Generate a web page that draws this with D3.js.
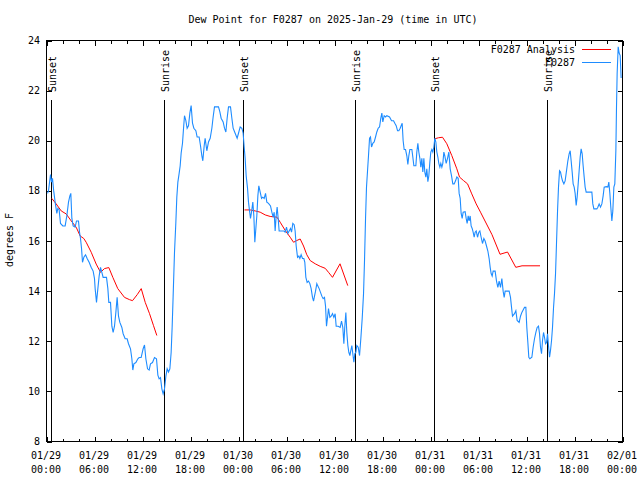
<!DOCTYPE html>
<html><head><meta charset="utf-8">
<script src="https://cdn.jsdelivr.net/npm/d3@7"></script>
<style>
html,body{margin:0;padding:0;background:#fff;}
text{font-family:"DejaVu Sans Mono",monospace;font-size:10px;fill:#000;}
</style></head><body>
<script>
// ---- data (hours since 2025-01-29 00:00 UTC) ----
const obsHours = [0.13,0.25,0.5,0.63,0.75,0.9,1.08,1.29,1.42,1.58,1.75,2.04,2.33,2.54,2.75,2.92,3.04,3.17,3.33,3.58,3.75,4.0,4.13,4.25,4.38,4.5,4.67,4.88,5.08,5.33,5.58,5.83,6.0,6.08,6.25,6.42,6.58,6.75,6.92,7.08,7.5,7.67,7.79,8.0,8.17,8.33,8.5,8.67,8.83,9.0,9.17,9.42,9.58,9.83,10.08,10.25,10.5,10.67,10.79,10.92,11.17,11.42,11.58,11.83,12.08,12.25,12.42,12.63,12.83,13.0,13.25,13.5,13.75,13.92,14.08,14.25,14.42,14.58,14.75,14.92,15.08,15.25,15.42,15.58,15.71,15.83,16.0,16.17,16.29,16.42,16.58,16.71,16.83,17.0,17.13,17.25,17.42,17.58,17.75,17.92,
18.08,18.25,18.42,18.67,18.83,19.08,19.25,19.42,19.54,19.71,19.83,20.04,20.25,20.46,20.67,20.83,21.0,21.5,21.67,21.83,22.08,22.25,22.42,22.58,22.75,23.0,23.17,23.33,23.58,23.83,24.0,24.21,24.42,24.58,24.71,24.83,24.96,25.13,25.25,25.38,25.5,25.63,25.79,25.92,26.04,26.17,26.29,26.42,26.54,26.71,26.88,27.04,27.21,27.38,27.54,27.75,28.0,28.17,28.33,28.46,28.58,28.71,28.83,28.96,29.08,29.67,29.83,30.0,30.17,30.33,30.5,30.63,30.79,30.96,31.08,31.21,31.38,31.54,31.67,31.83,32.0,32.17,32.29,32.42,32.58,32.75,32.92,33.08,33.25,33.38,33.5,33.63,33.79,33.92,34.08,34.25,34.42,34.58,34.75,34.88,35.0,35.13,35.25,35.42,35.58,35.75,35.92,36.08,
36.21,36.46,36.71,36.88,37.04,37.17,37.29,37.42,37.54,37.67,37.79,37.92,38.04,38.17,38.29,38.42,38.54,38.67,38.79,38.96,39.13,39.29,39.46,39.63,39.75,39.88,40.0,40.13,40.25,40.38,40.5,40.63,40.79,40.96,41.13,41.29,41.46,41.63,41.79,41.92,42.04,42.21,42.38,42.54,42.88,43.13,43.38,43.54,43.71,43.88,44.04,44.21,44.33,44.46,44.58,44.71,44.88,45.04,45.17,45.29,45.42,45.67,45.79,45.92,46.17,46.29,46.42,46.54,46.67,46.79,46.92,47.04,47.17,47.29,47.42,47.54,47.67,47.79,47.92,48.04,48.17,48.29,48.42,48.54,48.67,48.79,48.92,49.04,49.17,49.29,49.42,49.54,49.67,49.79,49.96,50.13,50.29,50.46,50.63,50.79,50.96,51.13,51.29,51.46,51.58,51.71,51.83,51.96,52.08,52.33,52.46,52.58,52.71,52.83,52.96,53.08,53.21,53.33,53.46,53.58,53.71,53.88,54.04,54.17,54.33,54.5,54.67,54.83,55.0,55.17,55.33,55.46,55.58,55.71,55.83,56.08,56.25,56.42,56.58,56.75,56.92,57.08,57.21,57.33,57.83,58.0,58.13,58.25,58.5,58.67,58.83,59.08,59.25,59.42,59.58,59.75,59.92,60.04,60.17,60.29,60.42,60.67,60.83,61.0,61.17,61.33,61.5,61.63,61.75,61.88,62.0,62.13,62.25,62.38,62.5,62.63,62.75,62.88,63.0,63.13,63.25,63.38,63.5,63.63,63.75,63.88,64.0,64.13,64.25,64.38,64.5,64.67,64.83,65.0,65.17,65.33,65.46,65.58,65.71,65.83,65.96,66.08,66.21,66.33,66.46,66.58,66.71,66.83,66.96,67.08,67.21,67.33,67.46,68.17,68.29,68.42,68.79,68.92,69.08,69.25,69.42,69.58,69.71,69.96,70.17,70.29,70.42,70.54,70.67,70.79,70.92,71.04,71.17,71.25,71.33,71.46,71.58,71.71,71.83];
const obsDew = [17.9,18.0,18.65,18.35,18.5,18.0,17.55,17.1,17.3,17.25,16.7,16.6,16.6,17.0,17.55,17.8,17.9,16.9,16.6,16.55,16.8,16.8,16.35,16.1,15.7,15.15,15.35,15.45,15.3,15.15,14.95,14.8,14.5,14.1,13.55,14.1,14.6,14.95,14.75,14.55,14.55,14.1,13.55,13.55,12.6,12.35,12.6,13.15,13.75,13.0,12.75,12.55,12.3,12.1,12.1,11.9,11.7,11.3,10.85,11.1,11.15,11.3,11.35,11.35,11.7,11.85,11.3,10.9,10.85,11.1,11.15,11.35,11.3,10.65,10.5,10.55,10.1,9.9,10.1,10.6,10.9,10.77,10.9,11.55,12.6,13.8,15.55,16.75,17.75,18.35,18.7,19.0,19.5,19.9,20.5,21.0,20.8,20.5,20.6,21.1,
21.4,20.7,20.5,20.4,20.15,20.15,19.8,19.4,19.2,19.8,20.1,19.6,19.95,20.1,20.5,20.95,21.35,21.35,21.15,20.9,20.75,20.5,20.35,20.9,21.35,21.35,20.9,20.5,20.3,20.1,20.3,20.55,20.5,20.3,19.75,19.3,18.6,18.1,17.55,17.2,16.9,17.15,17.55,17.0,15.95,16.5,17.0,17.8,18.2,17.95,17.7,17.75,17.7,17.9,17.55,17.5,17.4,17.15,16.95,17.15,16.4,17.0,17.35,16.9,16.4,16.4,16.35,16.55,16.3,16.4,16.5,16.35,16.7,16.65,16.4,15.8,15.35,15.4,15.3,15.45,15.3,15.3,15.15,14.55,14.35,14.4,14.3,14.1,13.75,13.6,13.8,14.0,14.3,14.2,14.1,13.95,13.8,13.7,13.75,13.4,12.6,12.95,13.3,12.95,13.0,13.1,12.95,13.1,
12.6,12.6,12.55,12.8,12.55,11.9,12.6,13.15,12.35,11.83,11.56,11.43,11.63,11.83,11.5,11.16,11.5,11.56,11.83,11.76,11.43,12.1,12.9,13.9,15.2,16.9,18.15,18.8,19.4,20.1,20.15,19.75,19.9,19.95,20.15,20.35,20.5,20.55,20.9,21.1,20.75,21.0,20.95,21.0,20.95,20.8,20.8,20.7,20.6,20.4,20.4,20.5,20.6,20.7,20.0,19.65,19.65,19.4,19.05,19.4,19.65,19.65,19.35,19.0,19.0,19.55,19.9,19.55,19.3,18.95,19.3,18.75,19.3,18.75,18.55,18.88,18.37,18.6,19.15,19.55,19.65,19.55,19.75,20.1,19.95,19.55,19.35,19.1,18.95,19.1,18.95,19.1,19.55,19.4,19.1,19.3,19.55,18.88,18.6,18.28,18.28,18.4,18.55,18.5,17.9,17.7,17.1,16.9,17.15,17.17,16.9,16.7,17.0,16.8,17.0,16.6,16.5,16.35,16.15,16.35,16.4,16.15,16.35,16.4,16.15,15.9,16.1,16.0,15.8,15.6,15.3,14.95,14.7,14.6,14.8,14.8,14.4,14.15,14.4,14.15,14.5,14.0,13.75,14.0,14.0,13.75,13.35,13.0,13.1,13.22,12.83,12.75,13.0,13.15,13.25,13.35,13.35,12.55,11.95,11.36,11.3,11.36,11.76,12.1,12.35,12.55,12.6,12.3,11.76,11.5,12.03,12.35,12.16,11.9,11.95,12.3,11.83,11.36,11.63,12.03,12.55,13.35,13.9,14.7,15.9,17.2,18.15,18.8,18.75,18.55,18.4,18.28,18.4,18.8,19.2,19.48,19.6,19.2,18.75,18.28,18.15,17.9,17.42,17.75,18.28,18.8,19.35,19.68,19.48,19.0,18.55,18.15,17.95,17.95,17.48,17.28,17.28,17.35,17.48,17.35,17.48,17.8,18.15,18.17,18.15,18.35,17.9,17.35,16.8,17.2,18.15,18.28,19.6,21.35,22.67,23.75,23.5,23.4,22.5];

// analysis series: null marks a gap between runs
const anaHours = [0.66,1.21,1.84,2.46,3.09,3.71,4.21,4.66,4.96,5.59,6.21,6.75,7.25,7.79,8.29,8.91,9.75,10.38,10.75,11.34,11.84,12.34,12.88,13.38,13.79, null,
24.75,25.46,26.09,26.71,27.34,27.96,28.81,29.21,29.84,30.46,30.88,31.29,31.71,32.13,32.54,32.96,33.59,34.21,34.84,35.25,35.75,36.69,37.66, null,
48.56,49.0,49.5,50.04,50.66,51.29,51.63,52.13,52.63,53.16,53.71,54.25,55.69,56.69,57.63,58.66,59.44,61.69];
const anaDew = [17.7,17.48,17.2,17.08,16.8,16.55,16.2,16.1,15.95,15.55,15.08,14.75,14.9,14.94,14.55,14.1,13.75,13.66,13.62,13.86,14.1,13.55,13.1,12.62,12.23, null,
17.24,17.24,17.2,17.15,17.04,16.98,16.95,16.75,16.42,16.15,15.95,16.02,16.08,15.8,15.45,15.22,15.09,14.99,14.91,14.75,14.55,15.09,14.22, null,
20.08,20.12,20.14,19.88,19.41,18.88,18.55,18.41,18.28,17.88,17.48,17.15,16.25,15.47,15.56,14.95,15.01,15.01];

const sunsetHours = [0.63, 24.63, 48.55];
const sunriseHours = [14.75, 38.65, 62.65];

const yTicks = [8,10,12,14,16,18,20,22,24];
const xMajorHours = [0,6,12,18,24,30,36,42,48,54,60,66,72];
const xMinorHours = d3.range(0,73,2).filter(h => h % 6 !== 0);
const xTickDates = ["01/29","01/29","01/29","01/29","01/30","01/30","01/30","01/30","01/31","01/31","01/31","01/31","02/01"];
const xTickTimes = ["00:00","06:00","12:00","18:00","00:00","06:00","12:00","18:00","00:00","06:00","12:00","18:00","00:00"];

const titleText = "Dew Point for F0287 on 2025-Jan-29 (time in UTC)";
const yLabel = "degrees F";
const seriesNames = ["F0287 Analysis", "F0287"];
const seriesColors = ["#ff0000", "#1e8cff"];

// ---- drawing ----
const W = 640, H = 480;
const L = 46, R = 622, T = 40, B = 441;
const svg = d3.select("body").append("svg").attr("width", W).attr("height", H);
svg.append("rect").attr("width", W).attr("height", H).attr("fill", "#fff");

const x = d3.scaleLinear().domain([0, 72]).range([L, R]);
const y = d3.scaleLinear().domain([8, 24]).range([B, T]);

const g = svg.append("g").attr("transform", "translate(0.5,0.5)");

// axes ticks (inward, mirrored)
function tickAxis(axisFn, scale, vals, size, tr) {
  const a = g.append("g").attr("transform", tr)
    .call(axisFn(scale).tickValues(vals).tickSize(size).tickFormat(""));
  a.select(".domain").remove();
  a.selectAll("line").attr("stroke", "#000").attr("shape-rendering", "crispEdges");
}
tickAxis(d3.axisBottom, x, xMajorHours, -5, `translate(0,${B})`);
tickAxis(d3.axisBottom, x, xMinorHours, -3, `translate(0,${B})`);
tickAxis(d3.axisTop, x, xMajorHours, -5, `translate(0,${T})`);
tickAxis(d3.axisTop, x, xMinorHours, -3, `translate(0,${T})`);
tickAxis(d3.axisLeft, y, yTicks, -5, `translate(${L},0)`);
tickAxis(d3.axisRight, y, yTicks, -5, `translate(${R},0)`);

// y labels
svg.append("g").selectAll("text").data(yTicks).join("text")
  .attr("x", 40).attr("y", d => y(d) + 4).attr("text-anchor", "end").text(d => d);

// x labels (two lines)
const xl = svg.append("g").selectAll("text").data(xMajorHours).join("text")
  .attr("text-anchor", "middle");
xl.append("tspan").attr("x", d => x(d)).attr("y", 459).text((d, i) => xTickDates[i]);
xl.append("tspan").attr("x", d => x(d)).attr("y", 473).text((d, i) => xTickTimes[i]);

// border
g.append("rect").attr("x", L).attr("y", T).attr("width", R - L).attr("height", B - T)
  .attr("fill", "none").attr("stroke", "#000").attr("shape-rendering", "crispEdges");

// sun lines + labels
const sunEvents = sunsetHours.map(h => ({h, label: "Sunset"}))
  .concat(sunriseHours.map(h => ({h, label: "Sunrise"})));
g.append("g").selectAll("line").data(sunEvents).join("line")
  .attr("x1", d => Math.round(x(d.h))).attr("x2", d => Math.round(x(d.h)))
  .attr("y1", 99).attr("y2", B).attr("stroke", "#000").attr("stroke-width", 1)
  .attr("shape-rendering", "crispEdges");
svg.append("g").selectAll("text").data(sunEvents).join("text")
  .attr("transform", d => `translate(${Math.round(x(d.h)) + 5},92) rotate(-90)`)
  .attr("text-anchor", "start").text(d => d.label);

// series lines
const obs = obsHours.map((h, i) => ({h, v: obsDew[i]}));
const ana = anaHours.map((h, i) => ({h, v: anaDew[i]}));
const line = d3.line().defined(d => d.h != null && d.v != null).x(d => x(d.h)).y(d => y(d.v));
g.append("path").datum(ana).attr("d", line).attr("fill", "none")
  .attr("stroke", seriesColors[0]).attr("stroke-width", 1);
g.append("path").datum(obs).attr("d", line).attr("fill", "none")
  .attr("stroke", seriesColors[1]).attr("stroke-width", 1.1);

// legend
seriesNames.forEach((name, i) => {
  const ly = 49 + i * 13;
  svg.append("text").attr("x", 575).attr("y", ly + 4).attr("text-anchor", "end").text(name);
  g.append("line").attr("x1", 581).attr("x2", 610).attr("y1", ly).attr("y2", ly)
    .attr("stroke", seriesColors[i]).attr("shape-rendering", "crispEdges");
});

// title and y label
svg.append("text").attr("x", 333).attr("y", 23).attr("text-anchor", "middle").text(titleText);
svg.append("text").attr("transform", "translate(13,240) rotate(-90)")
  .attr("text-anchor", "middle").text(yLabel);
</script>
</body></html>
